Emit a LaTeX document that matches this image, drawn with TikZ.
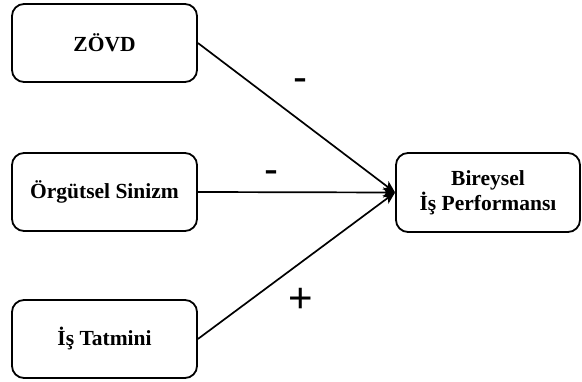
\documentclass[tikz,border=0pt]{standalone}
\usepackage{fontspec}
\setmainfont{Liberation Serif}
\newfontfamily\signfont{Liberation Sans}
\usetikzlibrary{arrows.meta}
\tikzset{
  varbox/.style={draw=black, line width=1.8pt, rounded corners=12pt, minimum width=185pt, minimum height=78pt, align=center, font=\bfseries\fontsize{21.5}{25}\selectfont, inner sep=0pt},
  link/.style={line width=1.7pt, -{Stealth[length=12pt,width=10pt,inset=3pt]}},
  sign/.style={font=\signfont\fontsize{42}{42}\selectfont, inner sep=0pt}
}
\begin{document}
\begin{tikzpicture}[x=1pt,y=-1pt]
\useasboundingbox (0,0) rectangle (582,382);
\node[varbox] (zovd) at (104.5,43) {ZÖVD};
\node[varbox] (sin) at (104.5,192) {Örgütsel Sinizm};
\node[varbox] (tat) at (104.5,339) {İş Tatmini};
\node[varbox, minimum width=184pt, minimum height=79pt] (perf) at (488,192.5) {Bireysel\\İş Performansı};
\draw[link] (zovd.east) -- (perf.west);
\draw[link] (sin.east) -- (perf.west);
\draw[link] (tat.east) -- (perf.west);
\node[sign] (s1) at (300,85) {-};
\node[sign] (s2) at (271,177) {-};
\node[sign] (s3) at (301,300) {+};
\end{tikzpicture}
\end{document}
